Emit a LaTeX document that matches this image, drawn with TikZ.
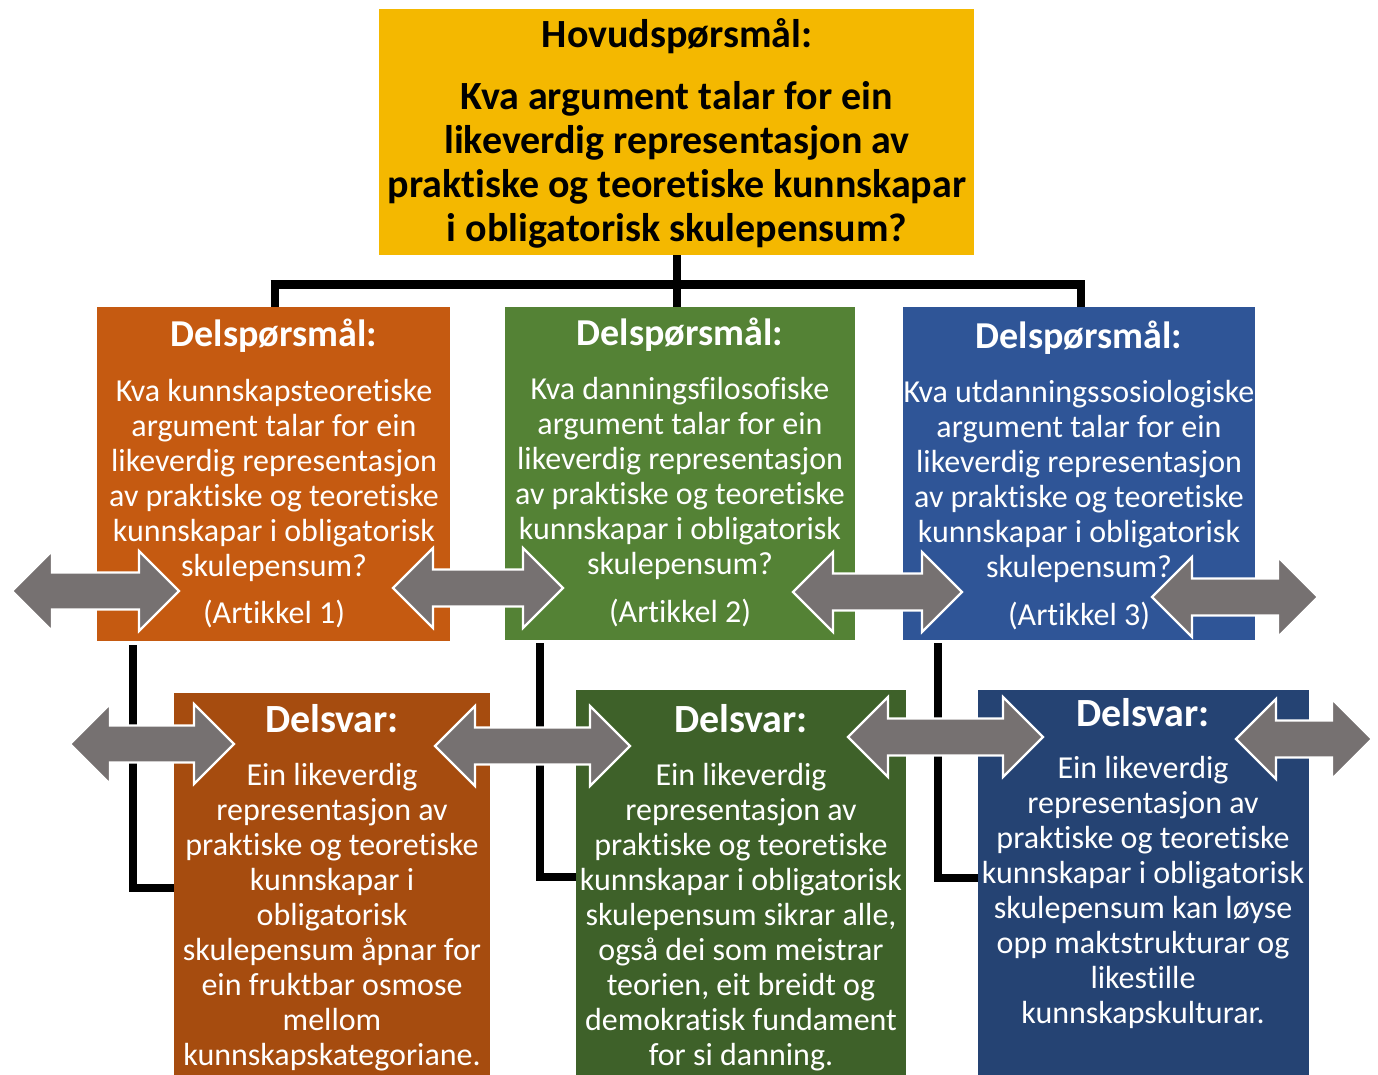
\documentclass[tikz,border=0pt]{standalone}
\usepackage{fontspec}
\setmainfont{Carlito}[RawFeature={-liga;-clig;-dlig;-calt}]
\definecolor{cTop}{HTML}{F4B800}
\definecolor{cOr}{HTML}{C55A11}
\definecolor{cGr}{HTML}{548235}
\definecolor{cBl}{HTML}{2F5597}
\definecolor{cOrD}{HTML}{A64C0F}
\definecolor{cGrD}{HTML}{3E6129}
\definecolor{cBlD}{HTML}{254373}
\definecolor{cArr}{HTML}{767171}
\tikzset{
  box/.style={rectangle, inner sep=0pt, anchor=north west, draw=none},
  txt/.style={align=center, inner sep=0pt, text=white, font=\fontsize{32}{35}\selectfont},
  head/.style={align=center, inner sep=0pt, text=white, font=\fontsize{38}{44}\selectfont\bfseries},
  headb/.style={align=center, inner sep=0pt, text=white, font=\fontsize{40}{44}\selectfont\bfseries},
  link/.style={line width=8pt, black},
  dbl/.style={fill=cArr, draw=white, line width=2.2pt, line join=miter},
}
\newcommand{\dblarr}[3]{% x1, x2, yc
  \draw[dbl] (#1,-#3) -- ++(40,40) -- ++(0,-21.5) -- (#2-40,-#3+18.5) -- ++(0,21.5) -- (#2,-#3)
    -- ++(-40,-40) -- ++(0,21.5) -- (#1+40,-#3-18.5) -- ++(0,-21.5) -- cycle;}
\begin{document}
\begin{tikzpicture}[x=1pt,y=1pt]
\useasboundingbox (0,0) rectangle (1378,-1075);
% boxes
\node[box, fill=cTop, minimum width=595, minimum height=246] (top) at (379,-9) {};
\node[box, fill=cOr, minimum width=353, minimum height=334] (q1) at (97,-307) {};
\node[box, fill=cGr, minimum width=350, minimum height=333] (q2) at (505,-307) {};
\node[box, fill=cBl, minimum width=352, minimum height=333] (q3) at (903,-307) {};
\node[box, fill=cOrD, minimum width=316, minimum height=382] (a1) at (174,-693) {};
\node[box, fill=cGrD, minimum width=330, minimum height=385] (a2) at (576,-690) {};
\node[box, fill=cBlD, minimum width=331, minimum height=385] (a3) at (978,-690) {};
% tree connectors
\coordinate (hb) at (677,-284.5);
\coordinate (hl) at (274.5,-284.5);
\coordinate (hr) at (1080.5,-284.5);
\draw[link] (top.south -| hb) -- (q2.north -| hb);
\draw[link] ([xshift=-4pt]hl) -- ([xshift=4pt]hr);
\draw[link] (hl) -- (q1.north -| hl);
\draw[link] (hr) -- (q3.north -| hr);
% question -> answer connectors
\draw[link] (133,-645) |- (a1.west |- 0,-887.5);
\draw[link] (540,-643) |- (a2.west |- 0,-876.5);
\draw[link] (938,-643) |- (a3.west |- 0,-877.5);
% texts
\node[inner sep=0pt, font=\fontsize{40}{44}\selectfont\bfseries] (tH) at (677,-36) {Hovudspørsmål:};
\node[align=center, inner sep=0pt, font=\fontsize{40}{44}\selectfont\bfseries] (tT) at (677,-165)
  {Kva argument talar for ein\\likeverdig representasjon av\\praktiske og teoretiske kunnskapar\\i obligatorisk skulepensum?};
\node[head] (h1) at (274,-336) {Delspørsmål:};
\node[txt] (t1) at (274,-480) {Kva kunnskapsteoretiske\\argument talar for ein\\likeverdig representasjon\\av praktiske og teoretiske\\kunnskapar i obligatorisk\\skulepensum?};
\node[txt] (r1) at (274,-614) {(Artikkel 1)};
\node[head] (h2) at (680,-335) {Delspørsmål:};
\node[txt] (t2) at (680,-478) {Kva danningsfilosofiske\\argument talar for ein\\likeverdig representasjon\\av praktiske og teoretiske\\kunnskapar i obligatorisk\\skulepensum?};
\node[txt] (r2) at (680,-613) {(Artikkel 2)};
\node[head] (h3) at (1079,-338) {Delspørsmål:};
\node[txt] (t3) at (1079,-481) {Kva utdanningssosiologiske\\argument talar for ein\\likeverdig representasjon\\av praktiske og teoretiske\\kunnskapar i obligatorisk\\skulepensum?};
\node[txt] (r3) at (1079,-616) {(Artikkel 3)};
\node[headb] (d1) at (332,-719) {Delsvar:};
\node[txt] (s1) at (332,-917) {Ein likeverdig\\representasjon av\\praktiske og teoretiske\\kunnskapar i\\obligatorisk\\skulepensum åpnar for\\ein fruktbar osmose\\mellom\\kunnskapskategoriane.};
\node[headb] (d2) at (741,-719) {Delsvar:};
\node[txt] (s2) at (741,-917) {Ein likeverdig\\representasjon av\\praktiske og teoretiske\\kunnskapar i obligatorisk\\skulepensum sikrar alle,\\også dei som meistrar\\teorien, eit breidt og\\demokratisk fundament\\for si danning.};
\node[headb] (d3) at (1143,-713) {Delsvar:};
\node[txt] (s3) at (1143,-892) {Ein likeverdig\\representasjon av\\praktiske og teoretiske\\kunnskapar i obligatorisk\\skulepensum kan løyse\\opp maktstrukturar og\\likestille\\kunnskapskulturar.};
% double arrows
\dblarr{12}{179}{591}
\dblarr{393}{563}{588}
\dblarr{793}{962}{592}
\dblarr{1152}{1318}{597}
\dblarr{70}{234}{744}
\dblarr{435}{630}{746}
\dblarr{848}{1043}{737}
\dblarr{1236}{1372}{739}
\end{tikzpicture}
\end{document}
